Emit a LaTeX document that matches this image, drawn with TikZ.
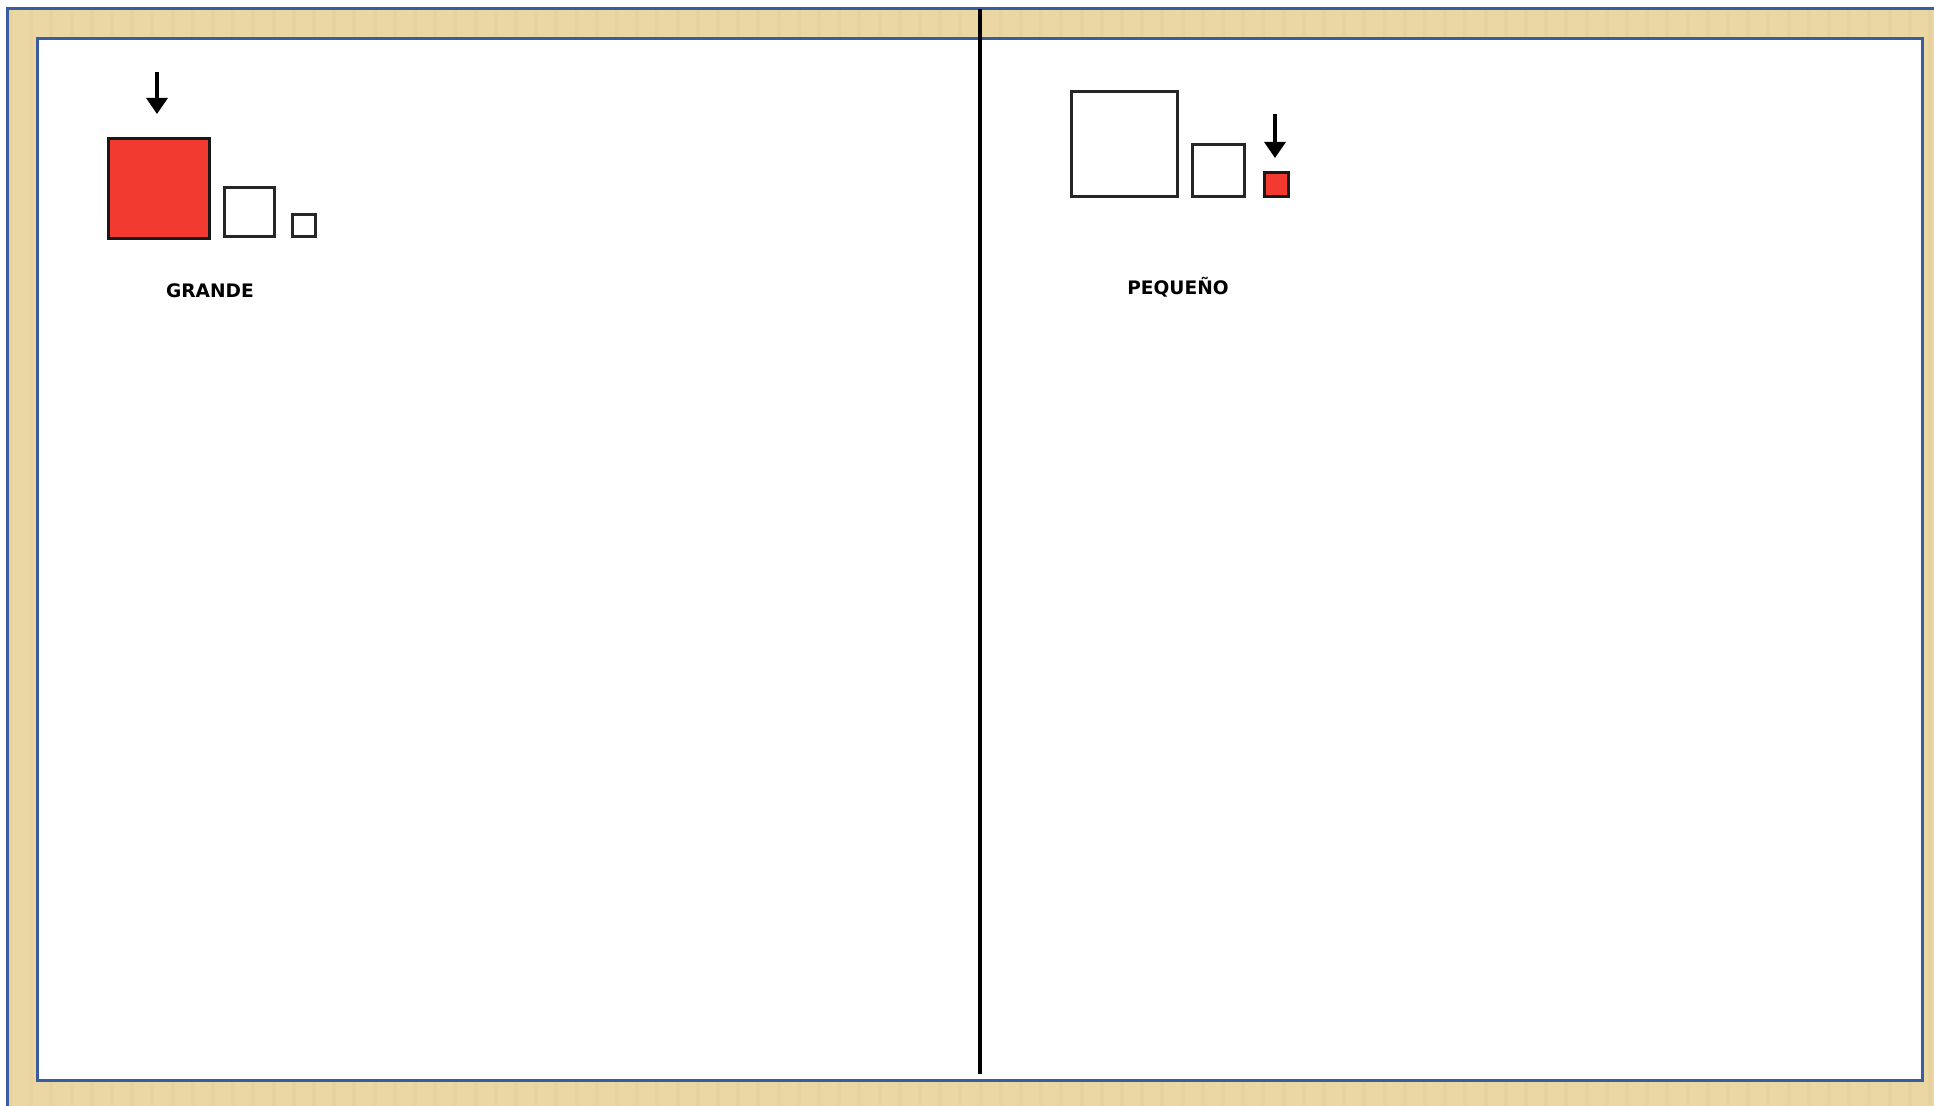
\documentclass[tikz,border=0pt]{standalone}
\usepackage{fontspec}
\setmainfont{DejaVu Sans}
\usetikzlibrary{arrows.meta}
\definecolor{parch}{HTML}{EBD7A4}
\definecolor{parchdark}{HTML}{DCC48B}
\definecolor{frameblue}{HTML}{3B5C9E}
\definecolor{sqred}{HTML}{F23A30}
\tikzset{
  sq/.style={draw=black!85, line width=1.3pt, fill=white},
  redsq/.style={draw=black!90, line width=1.7pt, fill=sqred},
  pointer/.style={line width=1.6pt, -{Triangle[width=10.5pt,length=8pt]}},
  lbl/.style={font=\bfseries\fontsize{9.3}{11}\selectfont, inner sep=0pt},
}
\begin{document}
\begin{tikzpicture}[x=0.5pt,y=-0.5pt]
\useasboundingbox (0,0) rectangle (1934,1106);
% parchment frame
\fill[parch] (7,9) rectangle (1934,1106);
\foreach \i in {0,...,95}{
  \pgfmathsetmacro{\xx}{9+\i*20.2}
  \fill[parchdark, opacity=0.18] (\xx,9) rectangle ++(4,1097);
}
\draw[frameblue, line width=1.5pt] (7,1106) -- (7,9) -- (1934,9);
% white page
\filldraw[fill=white, draw=frameblue, line width=1.5pt] (37,39) rectangle (1922,1080);
% divider
\coordinate (divtop) at (980,9);
\coordinate (divbot) at (980,1074);
\draw[black, line width=1.6pt] (divtop) -- (divbot);
% left group
\node[redsq, minimum width=50.5pt, minimum height=50pt, inner sep=0pt, anchor=north west] (big) at (107,137) {};
\node[sq, minimum width=25pt, minimum height=24.5pt, inner sep=0pt, anchor=south west] (mid) at (223,238) {};
\node[sq, minimum width=11.5pt, minimum height=11pt, inner sep=0pt, anchor=south west] (small) at (291,238) {};
\coordinate (la) at (157,72);
\coordinate (lb) at (157,114);
\draw[pointer] (la) -- (lb);
\node[lbl] (grande) at (210,291) {GRANDE};
% right group
\node[sq, minimum width=53pt, minimum height=52.5pt, inner sep=0pt, anchor=south west] (rbig) at (1070,198) {};
\node[sq, minimum width=26pt, minimum height=26pt, inner sep=0pt, anchor=south west] (rmid) at (1191,198) {};
\node[redsq, minimum width=12pt, minimum height=12pt, inner sep=0pt, anchor=south west] (rsmall) at (1263,198) {};
\coordinate (ra) at (1275,114);
\coordinate (rb) at (1275,158);
\draw[pointer] (ra) -- (rb);
\node[lbl] (pequeno) at (1178,287) {PEQUEÑO};
\end{tikzpicture}
\end{document}
